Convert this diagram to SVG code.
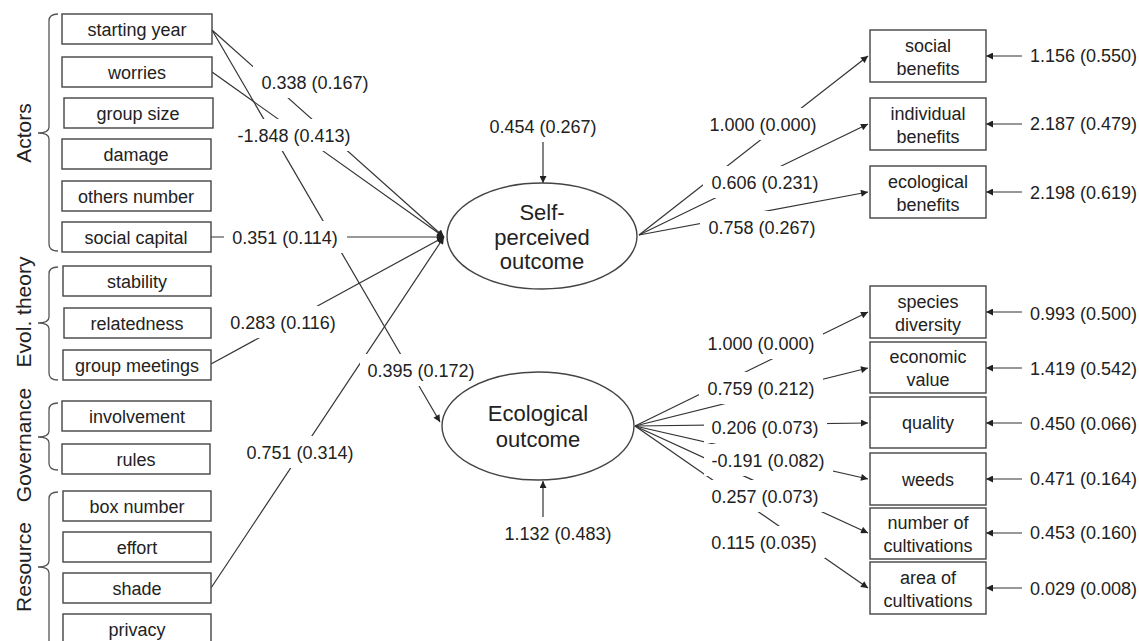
<svg xmlns="http://www.w3.org/2000/svg" width="1139" height="641" viewBox="0 0 1139 641">
<defs>
<marker id="ah" viewBox="0 0 10 10" refX="10" refY="5" markerWidth="9" markerHeight="7" markerUnits="userSpaceOnUse" orient="auto"><path d="M0,0 L10,5 L0,10 z" fill="#222"/></marker>
</defs>
<style>
text{font-family:"Liberation Sans",Arial,sans-serif;fill:#222;}
.box{fill:#fff;stroke:#444;stroke-width:1.4;}
.bt{font-size:18px;text-anchor:middle;}
.lab{font-size:18px;text-anchor:middle;}
.res{font-size:18px;text-anchor:start;}
.grp{font-size:21px;text-anchor:middle;}
.ell{fill:#fff;stroke:#444;stroke-width:1.4;}
.et{font-size:22px;text-anchor:middle;}
.ln{stroke:#333;stroke-width:1.2;fill:none;}
.ar{stroke:#333;stroke-width:1.2;fill:none;marker-end:url(#ah);}
.bg{fill:#fff;stroke:none;}
.br{stroke:#555;stroke-width:1.3;fill:none;}
</style>
<rect width="1139" height="641" fill="#fff"/>

<g id="groups">
<path class="br" d="M58,14 Q49,14 49,21 V127 Q49,133 38,133 Q49,133 49,139 V244 Q49,251 58,251"/>
<text class="grp" transform="translate(23,133) rotate(-90)" dy="7.5">Actors</text>
<path class="br" d="M58,267 Q49,267 49,274 V317 Q49,323 38,323 Q49,323 49,329 V373 Q49,380 58,380"/>
<text class="grp" transform="translate(23,312) rotate(-90)" dy="7.5">Evol. theory</text>
<path class="br" d="M58,403 Q49,403 49,410 V431 Q49,437 38,437 Q49,437 49,443 V463 Q49,470 58,470"/>
<text class="grp" transform="translate(23,445) rotate(-90)" dy="7.5">Governance</text>
<path class="br" d="M58,492 Q49,492 49,499 V561 Q49,567 38,567 Q49,567 49,573 V641"/>
<text class="grp" transform="translate(23,567) rotate(-90)" dy="7.5">Resource</text>
</g>

<g id="connectors">
<line class="ar" x1="212" y1="30" x2="444" y2="237"/>
<line class="ar" x1="212" y1="72" x2="444" y2="237"/>
<line class="ar" x1="211" y1="237" x2="444" y2="237"/>
<line class="ar" x1="211" y1="364" x2="444" y2="237"/>
<line class="ar" x1="211" y1="588" x2="444" y2="237"/>
<line class="ar" x1="212" y1="30" x2="440" y2="422"/>
<line class="ar" x1="543" y1="142" x2="543" y2="183"/>
<line class="ar" x1="543" y1="517" x2="543" y2="481"/>
<line class="ar" x1="639" y1="235" x2="868" y2="56"/>
<line class="ar" x1="639" y1="235" x2="868" y2="124"/>
<line class="ar" x1="639" y1="235" x2="868" y2="192"/>
<line class="ar" x1="635" y1="426" x2="868" y2="312"/>
<line class="ar" x1="635" y1="426" x2="868" y2="368"/>
<line class="ar" x1="635" y1="426" x2="868" y2="423"/>
<line class="ar" x1="635" y1="426" x2="868" y2="479"/>
<line class="ar" x1="635" y1="426" x2="868" y2="533"/>
<line class="ar" x1="635" y1="426" x2="868" y2="588"/>
<line class="ar" x1="1022" y1="56" x2="986" y2="56"/>
<line class="ar" x1="1022" y1="124" x2="986" y2="124"/>
<line class="ar" x1="1022" y1="192" x2="986" y2="192"/>
<line class="ar" x1="1022" y1="312" x2="986" y2="312"/>
<line class="ar" x1="1022" y1="368" x2="986" y2="368"/>
<line class="ar" x1="1022" y1="423" x2="986" y2="423"/>
<line class="ar" x1="1022" y1="479" x2="986" y2="479"/>
<line class="ar" x1="1022" y1="533" x2="986" y2="533"/>
<line class="ar" x1="1022" y1="588" x2="986" y2="588"/>

<g id="labels">
<rect class="bg" x="253" y="66" width="124" height="32"/>
<rect class="bg" x="229" y="119" width="130" height="32"/>
<rect class="bg" x="224" y="221" width="123" height="32"/>
<rect class="bg" x="222" y="306" width="123" height="32"/>
<rect class="bg" x="360" y="354" width="123" height="32"/>
<rect class="bg" x="239" y="436" width="123" height="32"/>
<rect class="bg" x="702" y="108" width="123" height="32"/>
<rect class="bg" x="703" y="166" width="124" height="32"/>
<rect class="bg" x="700" y="211" width="124" height="32"/>
<rect class="bg" x="699" y="327" width="124" height="32"/>
<rect class="bg" x="699" y="372" width="124" height="32"/>
<rect class="bg" x="704" y="411" width="123" height="32"/>
<rect class="bg" x="704" y="444" width="129" height="32"/>
<rect class="bg" x="704" y="480" width="123" height="32"/>
<rect class="bg" x="704" y="526" width="121" height="32"/>
<text class="lab" x="315" y="88.5">0.338 (0.167)</text>
<text class="lab" x="294" y="141.5">-1.848 (0.413)</text>
<text class="lab" x="285" y="243.5">0.351 (0.114)</text>
<text class="lab" x="283" y="328.5">0.283 (0.116)</text>
<text class="lab" x="421" y="376.5">0.395 (0.172)</text>
<text class="lab" x="300" y="458.5">0.751 (0.314)</text>
<text class="lab" x="543" y="132.5">0.454 (0.267)</text>
<text class="lab" x="558" y="539.5">1.132 (0.483)</text>
<text class="lab" x="763" y="130.5">1.000 (0.000)</text>
<text class="lab" x="765" y="188.5">0.606 (0.231)</text>
<text class="lab" x="762" y="233.5">0.758 (0.267)</text>
<text class="lab" x="761" y="349.5">1.000 (0.000)</text>
<text class="lab" x="761" y="394.5">0.759 (0.212)</text>
<text class="lab" x="765" y="433.5">0.206 (0.073)</text>
<text class="lab" x="768" y="466.5">-0.191 (0.082)</text>
<text class="lab" x="765" y="502.5">0.257 (0.073)</text>
<text class="lab" x="764" y="548.5">0.115 (0.035)</text>
<text class="res" x="1030" y="61.5">1.156 (0.550)</text>
<text class="res" x="1030" y="129.5">2.187 (0.479)</text>
<text class="res" x="1030" y="198.5">2.198 (0.619)</text>
<text class="res" x="1030" y="319.5">0.993 (0.500)</text>
<text class="res" x="1030" y="374.5">1.419 (0.542)</text>
<text class="res" x="1030" y="429.5">0.450 (0.066)</text>
<text class="res" x="1030" y="484.5">0.471 (0.164)</text>
<text class="res" x="1030" y="538.5">0.453 (0.160)</text>
<text class="res" x="1030" y="594.5">0.029 (0.008)</text>
</g>
</g>

<g id="n-starting-year"><rect class="box" x="62" y="14" width="150" height="30"/><text class="bt" x="137" y="35.5">starting year</text></g>
<g id="n-worries"><rect class="box" x="62" y="57" width="150" height="30"/><text class="bt" x="137" y="78.5">worries</text></g>
<g id="n-group-size"><rect class="box" x="64" y="98" width="149" height="30"/><text class="bt" x="138" y="119.5">group size</text></g>
<g id="n-damage"><rect class="box" x="62" y="139" width="149" height="30"/><text class="bt" x="136" y="160.5">damage</text></g>
<g id="n-others-number"><rect class="box" x="62" y="181" width="149" height="30"/><text class="bt" x="136" y="202.5">others number</text></g>
<g id="n-social-capital"><rect class="box" x="62" y="222" width="149" height="30"/><text class="bt" x="136" y="243.5">social capital</text></g>
<g id="n-stability"><rect class="box" x="63" y="266" width="148" height="30"/><text class="bt" x="137" y="287.5">stability</text></g>
<g id="n-relatedness"><rect class="box" x="64" y="308" width="147" height="30"/><text class="bt" x="137" y="329.5">relatedness</text></g>
<g id="n-group-meetings"><rect class="box" x="63" y="350" width="148" height="30"/><text class="bt" x="137" y="371.5">group meetings</text></g>
<g id="n-involvement"><rect class="box" x="62" y="401" width="149" height="30"/><text class="bt" x="137" y="422.5">involvement</text></g>
<g id="n-rules"><rect class="box" x="62" y="444" width="148" height="30"/><text class="bt" x="136" y="465.5">rules</text></g>
<g id="n-box-number"><rect class="box" x="63" y="491" width="148" height="30"/><text class="bt" x="137" y="512.5">box number</text></g>
<g id="n-effort"><rect class="box" x="63" y="532" width="148" height="30"/><text class="bt" x="137" y="553.5">effort</text></g>
<g id="n-shade"><rect class="box" x="63" y="573" width="148" height="30"/><text class="bt" x="137" y="594.5">shade</text></g>
<g id="n-privacy"><rect class="box" x="63" y="614" width="148" height="30"/><text class="bt" x="137" y="635.5">privacy</text></g>

<g id="n-self-perceived"><ellipse class="ell" cx="542" cy="236" rx="95" ry="53"/>
<text class="et" x="542" y="220">Self-</text><text class="et" x="542" y="245">perceived</text><text class="et" x="542" y="269">outcome</text></g>
<g id="n-ecological"><ellipse class="ell" cx="538" cy="426" rx="96" ry="54"/>
<text class="et" x="538" y="421">Ecological</text><text class="et" x="538" y="447">outcome</text></g>

<g id="n-social-benefits"><rect class="box" x="870" y="30" width="116" height="52"/><text class="bt" x="928" y="51.5">social</text><text class="bt" x="928" y="74.5">benefits</text></g>
<g id="n-individual-benefits"><rect class="box" x="870" y="98" width="116" height="52"/><text class="bt" x="928" y="119.5">individual</text><text class="bt" x="928" y="142.5">benefits</text></g>
<g id="n-ecological-benefits"><rect class="box" x="870" y="166" width="116" height="52"/><text class="bt" x="928" y="187.5">ecological</text><text class="bt" x="928" y="210.5">benefits</text></g>
<g id="n-species-diversity"><rect class="box" x="870" y="286" width="116" height="52"/><text class="bt" x="928" y="307.5">species</text><text class="bt" x="928" y="330.5">diversity</text></g>
<g id="n-economic-value"><rect class="box" x="870" y="342" width="116" height="51"/><text class="bt" x="928" y="363">economic</text><text class="bt" x="928" y="386">value</text></g>
<g id="n-quality"><rect class="box" x="870" y="397" width="116" height="51"/><text class="bt" x="928" y="429">quality</text></g>
<g id="n-weeds"><rect class="box" x="870" y="453" width="116" height="52"/><text class="bt" x="928" y="485.5">weeds</text></g>
<g id="n-number-of-cultivations"><rect class="box" x="870" y="508" width="116" height="51"/><text class="bt" x="928" y="529">number of</text><text class="bt" x="928" y="552">cultivations</text></g>
<g id="n-area-of-cultivations"><rect class="box" x="870" y="562" width="116" height="52"/><text class="bt" x="928" y="583.5">area of</text><text class="bt" x="928" y="606.5">cultivations</text></g>
</svg>
